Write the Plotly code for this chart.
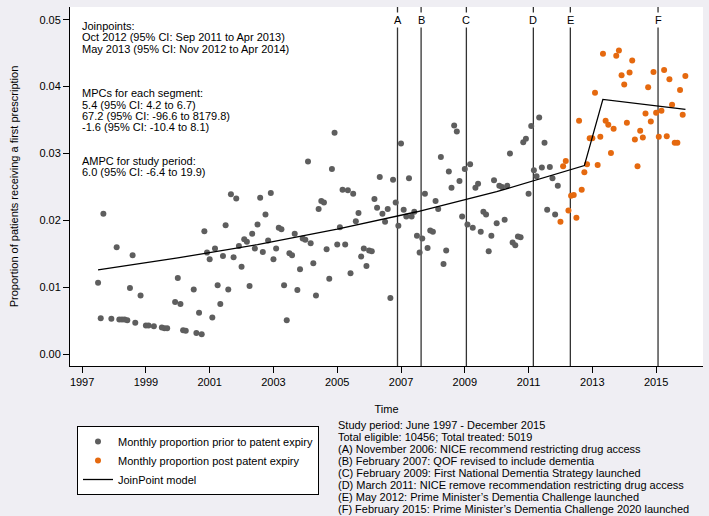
import plotly.graph_objects as go

# ---------------- data ----------------
start_year = 1997.5          # first monthly observation (June 1997)
prior_values = [
    0.0107, 0.0054, 0.0210, None, None, 0.0053, None, 0.0160, 0.0052, 0.0052,
    0.0052, 0.0051, 0.0099, 0.0148, 0.0047, None, 0.0088, None, 0.0043, 0.0043,
    None, 0.0042, None, None, 0.0040, 0.0039, 0.0039, None, None, 0.0078,
    0.0114, 0.0075, 0.0036, 0.0035, None, None, 0.0097, 0.0032, 0.0062, 0.0030,
    0.0184, 0.0152, 0.0142, 0.0055, 0.0158, 0.0103, 0.0075, 0.0147, 0.0193, 0.0097,
    0.0239, 0.0145, 0.0233, 0.0162, 0.0131, 0.0172, 0.0168, 0.0102, 0.0180, 0.0158,
    0.0194, 0.0234, 0.0153, 0.0209, 0.0170, 0.0241, 0.0142, 0.0158, 0.0189, 0.0187,
    0.0103, 0.0051, 0.0151, 0.0148, 0.0180, 0.0096, 0.0127, 0.0173, 0.0171, 0.0288,
    0.0166, 0.0136, 0.0088, 0.0217, 0.0229, 0.0227, 0.0157, 0.0113, 0.0277, 0.0331,
    0.0164, 0.0190, 0.0246, 0.0164, 0.0245, 0.0121, 0.0240, 0.0199, 0.0211, 0.0146,
    0.0158, 0.0132, 0.0155, 0.0154, 0.0232, 0.0219, 0.0265, 0.0210, 0.0198, 0.0217,
    0.0084, 0.0261, 0.0227, 0.0192, 0.0315, 0.0216, 0.0206, 0.0263, 0.0206, 0.0213,
    0.0177, 0.0152, 0.0173, 0.0240, 0.0159, 0.0185, 0.0183, 0.0229, 0.0217, 0.0295,
    0.0135, 0.0155, 0.0273, 0.0249, 0.0342, 0.0333, 0.0259, 0.0206, 0.0277, 0.0194,
    0.0284, 0.0189, 0.0249, 0.0255, 0.0183, 0.0213, 0.0209, 0.0154, 0.0177, 0.0260,
    0.0196, 0.0252, 0.0250, 0.0201, 0.0252, 0.0300, 0.0167, 0.0163, 0.0176, 0.0175,
    0.0317, 0.0322, 0.0240, 0.0341, 0.0275, 0.0266, 0.0354, 0.0279, 0.0316, 0.0216,
    0.0280, 0.0263, 0.0209, 0.0252,
]
post_values = [
    0.0198, 0.0281, 0.0289, 0.0215, 0.0237, 0.0238, 0.0204, 0.0349, 0.0246, 0.0272,
    0.0284, 0.0323, 0.0323, 0.0391, 0.0283, 0.0325, 0.0449, 0.0349, 0.0343, 0.0301,
    0.0337, 0.0446, 0.0454, 0.0417, 0.0403, 0.0346, 0.0421, 0.0439, 0.0321, 0.0281,
    0.0334, 0.0324, 0.0360, 0.0399, 0.0348, 0.0422, 0.0361, 0.0325, 0.0364, 0.0425,
    0.0326, 0.0411, 0.0373, 0.0316, 0.0316, 0.0395, 0.0358, 0.0416,
]
jp_x = [1997.5, 2000.0, 2002.5, 2005.0, 2007.5, 2010.0, 2012.75, 2013.33, 2015.92]
jp_y = [0.0126, 0.0144, 0.0164, 0.0187, 0.0213, 0.0243, 0.0282, 0.0381, 0.0366]

event_labels = ["A", "B", "C", "D", "E", "F"]
event_years = [2006.89, 2007.63, 2009.05, 2011.15, 2012.31, 2015.06]

year_ticks = [1997, 1999, 2001, 2003, 2005, 2007, 2009, 2011, 2013, 2015]
y_ticks = [0.00, 0.01, 0.02, 0.03, 0.04, 0.05]

top_left_text = [
    "Joinpoints:",
    "Oct 2012 (95% CI: Sep 2011 to Apr 2013)",
    "May 2013 (95% CI: Nov 2012 to Apr 2014)",
    "MPCs for each segment:",
    "5.4 (95% CI: 4.2 to 6.7)",
    "67.2 (95% CI: -96.6 to 8179.8)",
    "-1.6 (95% CI: -10.4 to 8.1)",
    "AMPC for study period:",
    "6.0 (95% CI: -6.4 to 19.9)",
]
note_text = [
    "Study period: June 1997 - December 2015",
    "Total eligible: 10456; Total treated: 5019",
    "(A) November 2006: NICE recommend restricting drug access",
    "(B) February 2007: QOF revised to include dementia",
    "(C) February 2009: First National Dementia Strategy launched",
    "(D) March 2011: NICE remove recommendation restricting drug access",
    "(E) May 2012: Prime Minister\u2019s Dementia Challenge launched",
    "(F) February 2015: Prime Minister\u2019s Dementia Challenge 2020 launched",
]

# ---------------- layout geometry (pixels) ----------------
W, H = 709, 516
PL, PR, PT, PB = 70, 703, 7, 366
pw, ph = PR - PL, PB - PT

def py(ypix):
    return (PB - ypix) / ph

def px(xpix):
    return (xpix - PL) / pw

prior_x = [start_year + i / 12 for i in range(len(prior_values))]
post_x = [start_year + (len(prior_values) + i) / 12 for i in range(len(post_values))]

GREY = "#5e5e5e"
ORANGE = "#e5690f"
FONT = "Arial, Liberation Sans, sans-serif"

fig = go.Figure()
fig.add_trace(go.Scatter(
    x=prior_x, y=prior_values, mode="markers", name="Monthly proportion prior to patent expiry",
    marker=dict(color=GREY, size=6, line=dict(width=0)),
))
fig.add_trace(go.Scatter(
    x=post_x, y=post_values, mode="markers", name="Monthly proportion post patent expiry",
    marker=dict(color=ORANGE, size=6, line=dict(width=0)),
))
fig.add_trace(go.Scatter(
    x=jp_x, y=jp_y, mode="lines", name="JoinPoint model",
    line=dict(color="black", width=1.3),
))

shapes = []
annotations = []
for lab, yr in zip(event_labels, event_years):
    shapes.append(dict(type="line", xref="x", yref="paper", x0=yr, x1=yr, y0=0, y1=1,
                       line=dict(color="#333333", width=1.3), layer="below"))
    annotations.append(dict(x=yr, y=0.05, xref="x", yref="y", text=lab, showarrow=False,
                            font=dict(family=FONT, size=11, color="black"),
                            bgcolor="white", borderpad=1))

tl_y = [25.5, 37, 48.5, 93.3, 104.5, 115.7, 127, 160.5, 171.7]
for t, yy in zip(top_left_text, tl_y):
    annotations.append(dict(x=px(80), y=py(yy), xref="paper", yref="paper", text=t,
                            showarrow=False, xanchor="left", yanchor="middle",
                            font=dict(family=FONT, size=11, color="black")))

for k, t in enumerate(note_text):
    annotations.append(dict(x=px(336), y=py(425 + 12 * k), xref="paper", yref="paper", text=t,
                            showarrow=False, xanchor="left", yanchor="middle",
                            font=dict(family=FONT, size=11, color="black")))

fig.update_layout(
    width=W, height=H,
    margin=dict(l=PL, r=W - PR, t=PT, b=H - PB, pad=0, autoexpand=False),
    paper_bgcolor="#efeef3",
    plot_bgcolor="white",
    font=dict(family=FONT, size=11, color="black"),
    showlegend=True,
    legend=dict(x=px(77), y=py(426), xanchor="left", yanchor="top",
                bgcolor="white", bordercolor="black", borderwidth=1,
                font=dict(family=FONT, size=11, color="black"),
                itemwidth=30, tracegroupgap=0),
    shapes=shapes,
    annotations=annotations,
    xaxis=dict(range=[1996.62, 2016.47], tickvals=year_ticks, ticktext=[str(v) for v in year_ticks],
               showgrid=False, zeroline=False, showline=True, linecolor="black", linewidth=1,
               ticks="outside", ticklen=6, tickcolor="black", tickwidth=1,
               tickfont=dict(size=11), automargin=False,
               title=dict(text="Time", font=dict(size=11), standoff=18)),
    yaxis=dict(range=[-0.00175, 0.0519], tickvals=y_ticks, tickformat=".2f",
               showgrid=False, zeroline=False, showline=True, linecolor="black", linewidth=1,
               ticks="outside", ticklen=6, tickcolor="black", tickwidth=1,
               tickfont=dict(size=11), automargin=False,
               title=dict(text="Proportion of patients receiving a first prescription",
                          font=dict(size=11), standoff=18)),
)

fig.write_html("out.html", include_plotlyjs=True,
               config={"displayModeBar": False, "staticPlot": True},
               post_script="document.body.style.margin='0px';document.body.style.background='#efeef3';")
